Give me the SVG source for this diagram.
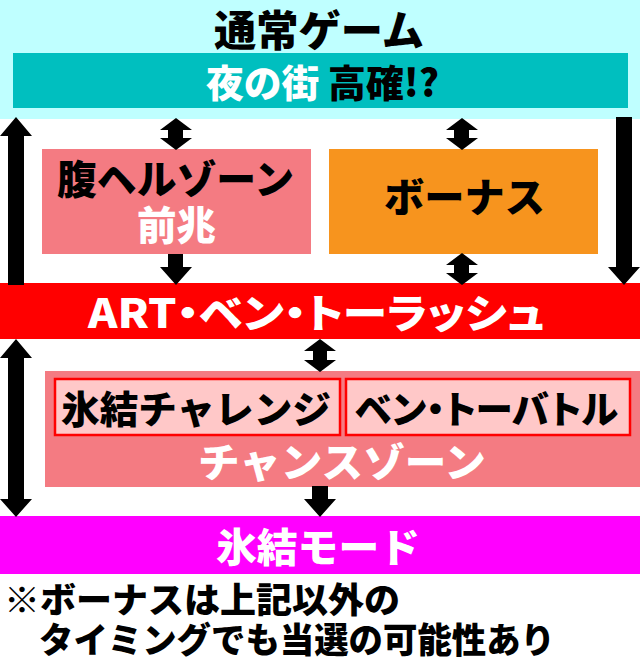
<svg xmlns="http://www.w3.org/2000/svg" width="640" height="662" viewBox="0 0 640 662">
<style>
text{font-family:"Noto Sans CJK JP","Noto Sans",sans-serif;font-weight:900;}
.p{font-feature-settings:"palt";}
.b{fill:#000}
.w{fill:#fff}
.arr{fill:#000}
</style>
<rect x="0" y="0" width="640" height="662" fill="#fff"/>
<g id="normal-game">
<rect x="0" y="0" width="640" height="119" fill="#BFFFFF"/>
<text class="b" x="214" y="46" font-size="42" textLength="210" lengthAdjust="spacingAndGlyphs">通常ゲーム</text>
</g>
<g id="night-street">
<rect x="13" y="53" width="615" height="55" fill="#00BFBF"/>
<text x="206" y="97" font-size="38" textLength="233" lengthAdjust="spacingAndGlyphs"><tspan class="w">夜の街</tspan><tspan class="b"> 高確!?</tspan></text>
</g>
<g id="hara-zone">
<rect x="42" y="149" width="269" height="105" fill="#F47B82"/>
<text class="b" x="57" y="194" font-size="40" textLength="237" lengthAdjust="spacingAndGlyphs">腹ヘルゾーン</text>
<text class="w" x="137" y="240" font-size="40" textLength="79" lengthAdjust="spacingAndGlyphs">前兆</text>
</g>
<g id="bonus">
<rect x="329" y="149" width="269" height="105" fill="#F7941E"/>
<text class="b" x="384" y="212" font-size="40" textLength="161" lengthAdjust="spacingAndGlyphs">ボーナス</text>
</g>
<g id="art">
<rect x="0" y="283" width="640" height="56" fill="#FF0000"/>
<text class="w p" x="88" y="328" font-size="40" textLength="457" lengthAdjust="spacingAndGlyphs">ART・ベン・トーラッシュ</text>
</g>
<g id="chance-zone">
<rect x="45" y="371" width="595" height="116" fill="#F47B82"/>
<text class="w" x="198" y="477" font-size="40" textLength="288" lengthAdjust="spacingAndGlyphs">チャンスゾーン</text>
</g>
<g id="hyoketsu-challenge">
<rect x="55" y="379" width="285" height="56" fill="#FFC8C8" stroke="#FF0000" stroke-width="2.5"/>
<text class="b" x="61" y="423" font-size="38" textLength="270" lengthAdjust="spacingAndGlyphs">氷結チャレンジ</text>
</g>
<g id="ben-to-battle">
<rect x="346" y="379" width="284" height="56" fill="#FFC8C8" stroke="#FF0000" stroke-width="2.5"/>
<text class="b p" x="355" y="423" font-size="38" textLength="263" lengthAdjust="spacingAndGlyphs">ベン・トーバトル</text>
</g>
<g id="hyoketsu-mode">
<rect x="0" y="516" width="640" height="58" fill="#FF00FF"/>
<text class="w" x="216" y="562" font-size="40" textLength="204" lengthAdjust="spacingAndGlyphs">氷結モード</text>
</g>
<g id="note">
<text class="b" x="4" y="613" font-size="35" textLength="396" lengthAdjust="spacingAndGlyphs">※ボーナスは上記以外の</text>
<text class="b" x="39" y="653" font-size="35" textLength="516" lengthAdjust="spacingAndGlyphs">タイミングでも当選の可能性あり</text>
</g>
<g id="connectors" class="arr">
<polygon points="16,117 32,136 24,136 24,285 8,285 8,136 0,136"/>
<polygon points="616,117 632,117 632,267 640,267 624,285 608,267 616,267"/>
<polygon points="176,118 192,130 183,130 183,138 192,138 176,150 160,138 168,138 168,130 160,130"/>
<polygon points="168,254 183,254 183,267 192,267 176,285 160,267 168,267"/>
<polygon points="462,118 478,130 469,130 469,138 478,138 462,150 446,138 454,138 454,130 446,130"/>
<polygon points="462,253 478,265 469,265 469,273 478,273 462,285 446,273 454,273 454,265 446,265"/>
<polygon points="16,339 32,358 24,358 24,499 32,499 16,517 0,499 8,499 8,358 0,358"/>
<polygon points="320,339 336,351 327,351 327,360 336,360 320,372 304,360 313,360 313,351 304,351"/>
<polygon points="312,486 328,486 328,499 336,499 320,517 304,499 312,499"/>
</g>
</svg>
